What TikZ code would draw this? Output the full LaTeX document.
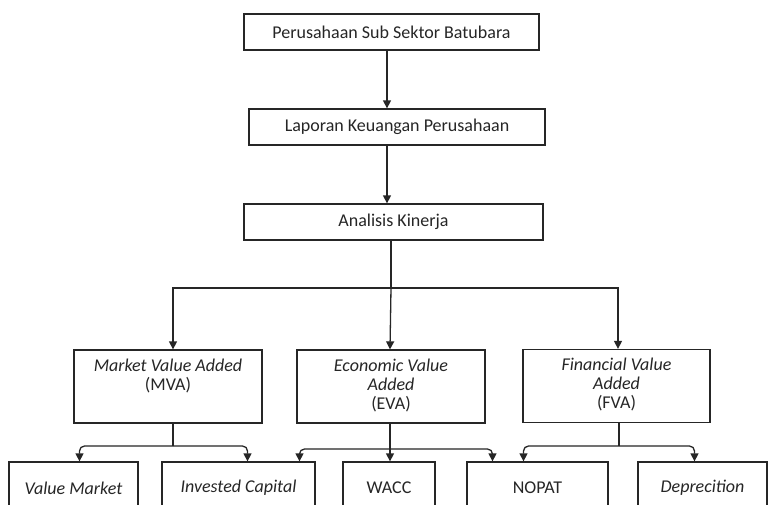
\documentclass[tikz,border=0pt]{standalone}
\usepackage{fontspec}
\setmainfont{Carlito}
\usetikzlibrary{arrows.meta}
\begin{document}
\begin{tikzpicture}[x=1pt,y=-1pt,
  box/.style={draw=black!85, line width=1.3pt, inner sep=0pt, text=black!85,
    font=\fontsize{18}{19}\selectfont, align=center},
  lbl/.style={anchor=north, inner sep=0pt, yshift=-9pt, align=center, text=black!85,
    font=\fontsize{18}{19}\selectfont},
  arr/.style={draw=black!85, line width=1.3pt, -{Triangle[length=8pt,width=8pt]}},
  ln/.style={draw=black!85, line width=1.3pt},
  rc/.style={rounded corners=5pt}]
\useasboundingbox (0,0) rectangle (768,504);
\fill[white] (0,0) rectangle (768,504);
\clip (0,0) rectangle (768,504);

% top chain
\node[box, minimum width=295pt, minimum height=36pt] (b1) at (391.5,32) {Perusahaan Sub Sektor Batubara};
\node[box, minimum width=296pt, minimum height=36pt] (b2) at (397,127) {Laporan Keuangan Perusahaan};
\node[box, minimum width=299pt, minimum height=36pt] (b3) at (393.5,222) {Analisis Kinerja};

% second row
\node[box, minimum width=188pt, minimum height=73pt,
  label={[lbl]north:{\textit{Market Value Added}\\(MVA)}}] (mva) at (168,386.5) {};
\node[box, minimum width=188pt, minimum height=73pt,
  label={[lbl]north:{\textit{Economic Value}\\\textit{Added}\\(EVA)}}] (eva) at (391,386.5) {};
\node[box, minimum width=187pt, minimum height=73pt,
  label={[lbl]north:{\textit{Financial Value}\\\textit{Added}\\(FVA)}}] (fva) at (616.5,386) {};

% bottom row
\node[box, minimum width=129pt, minimum height=52pt] (vm) at (73.5,488) {\textit{Value Market}};
\node[box, minimum width=153pt, minimum height=52pt] (ic) at (238.5,488) {\textit{Invested Capital}};
\node[box, minimum width=92pt, minimum height=52pt] (wacc) at (389,488) {WACC};
\node[box, minimum width=141pt, minimum height=52pt] (nopat) at (537.5,488) {NOPAT};
\node[box, minimum width=129pt, minimum height=52pt] (dep) at (702.5,488) {\textit{Deprecition}};

% connectors top
\coordinate (c1) at (387,0);
\coordinate (c2) at (391,0);
\draw[arr] (b1.south -| c1) -- (b2.north -| c1);
\draw[arr] (b2.south -| c1) -- (b3.north -| c1);
\coordinate (t0) at (391,288);
\draw[ln] (b3.south -| c2) -- (t0);
\coordinate (cm) at (173,0);
\coordinate (ce) at (390,0);
\coordinate (cf) at (618,0);
\draw[arr] (t0) -| (mva.north -| cm);
\draw[arr] (t0) -- (eva.north -| ce);
\draw[arr] (t0) -| (fva.north -| cf);

% connectors bottom
\coordinate (m1) at (173,446);
\draw[ln] (mva.south -| m1) -- (m1);
\draw[arr, rc] (m1) -| ([xshift=6pt]vm.north);
\draw[arr, rc] (m1) -| ([xshift=9pt]ic.north);

\coordinate (e1) at (390,449);
\draw[arr] (eva.south -| e1) -- (wacc.north -| e1);
\draw[arr, rc] (e1) -| ([xshift=61pt]ic.north);
\draw[arr, rc] (e1) -| ([xshift=-45pt]nopat.north);

\coordinate (f1) at (619,446);
\draw[ln] (fva.south -| f1) -- (f1);
\draw[arr, rc] (f1) -| ([xshift=-14pt]nopat.north);
\draw[arr, rc] (f1) -| ([xshift=-8pt]dep.north);
\end{tikzpicture}
\end{document}
